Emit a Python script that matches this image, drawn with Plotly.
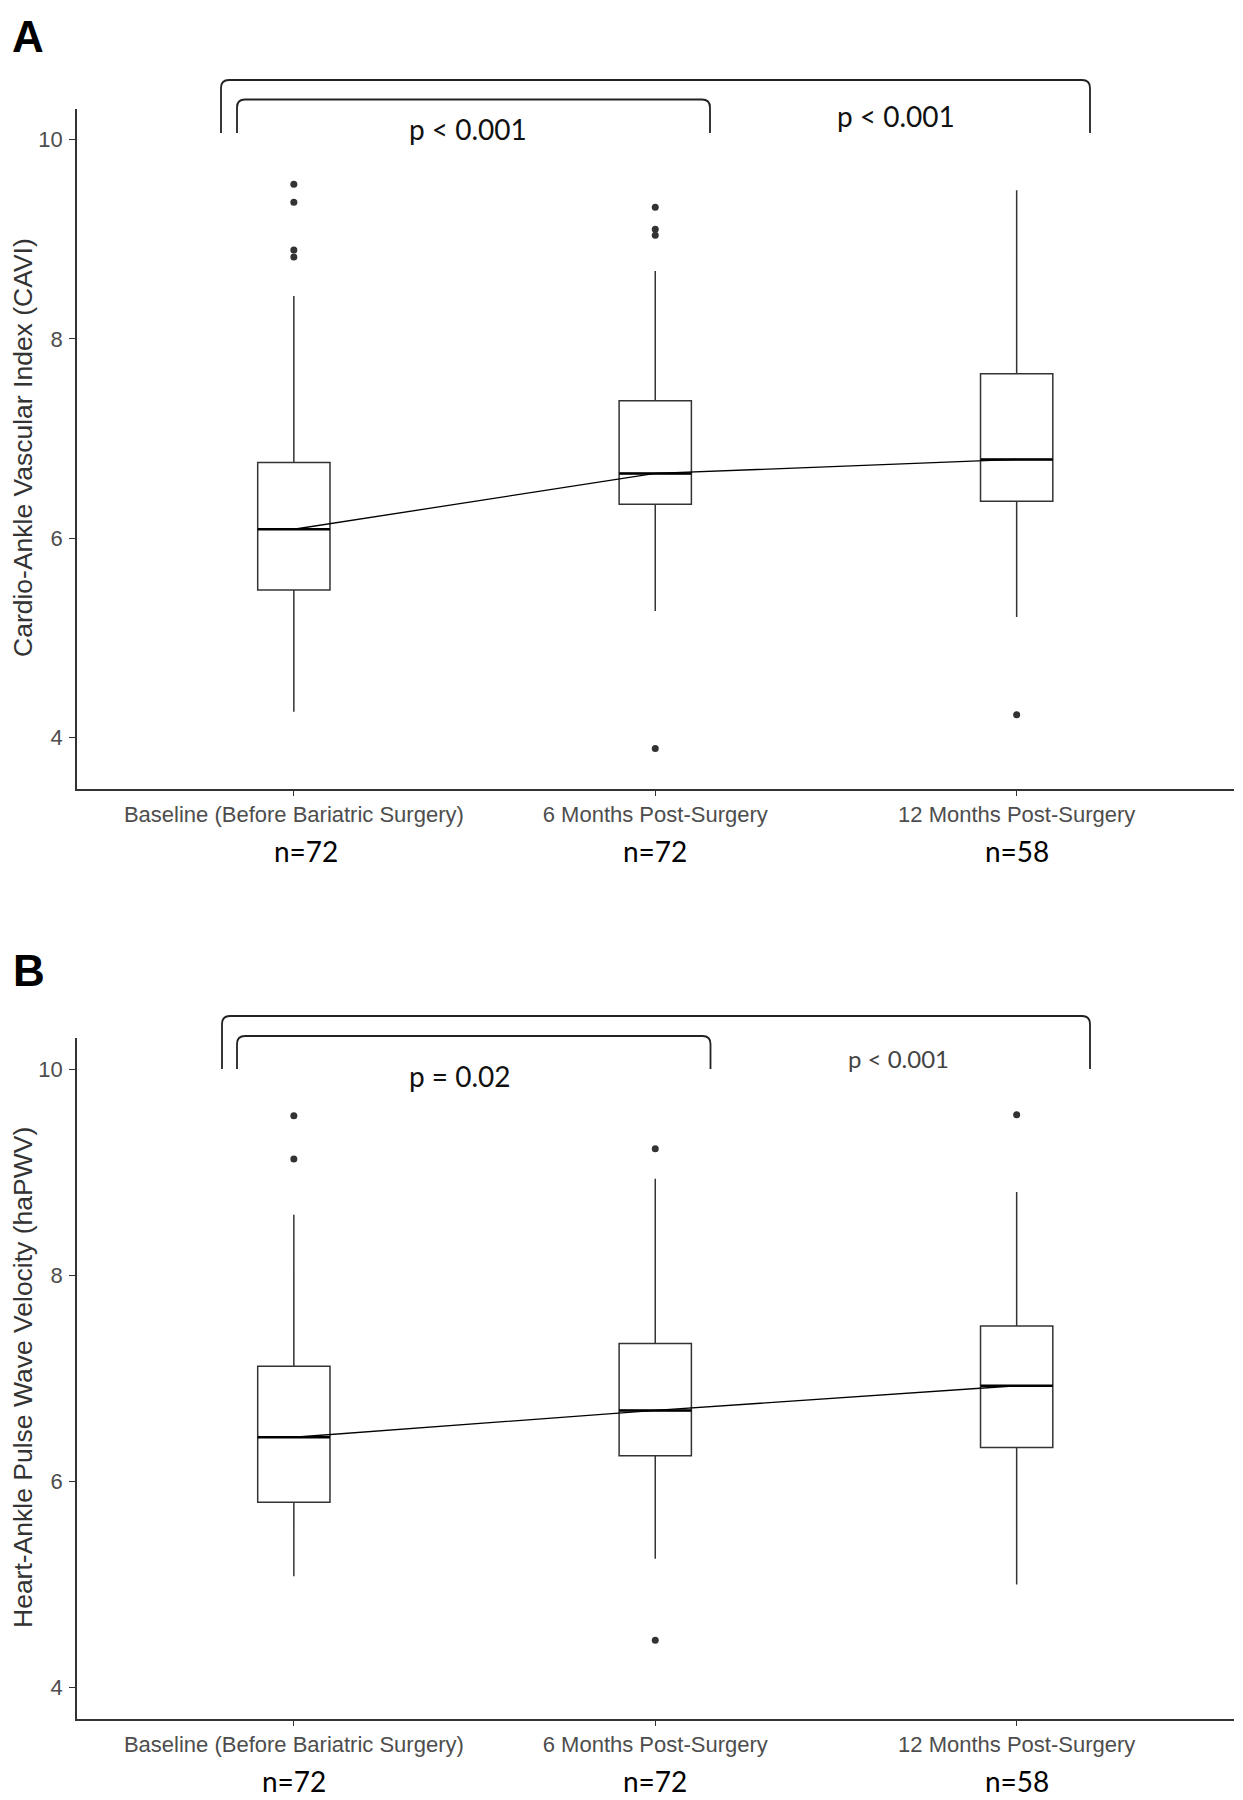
import plotly.graph_objects as go

# ---------------- data ----------------
categories = ["Baseline (Before Bariatric Surgery)", "6 Months Post-Surgery", "12 Months Post-Surgery"]
x_pos = [1, 2, 3]
n_labels = ["n=72", "n=72", "n=58"]

cavi_lower = [4.26, 5.27, 5.21]
cavi_q1 = [5.48, 6.34, 6.37]
cavi_median = [6.09, 6.65, 6.79]
cavi_q3 = [6.76, 7.38, 7.65]
cavi_upper = [8.43, 8.68, 9.49]
cavi_outliers = [[9.55, 9.37, 8.89, 8.82], [9.32, 9.10, 9.04, 3.89], [4.23]]

hapwv_lower = [5.08, 5.25, 5.00]
hapwv_q1 = [5.80, 6.25, 6.33]
hapwv_median = [6.43, 6.69, 6.93]
hapwv_q3 = [7.12, 7.34, 7.51]
hapwv_upper = [8.59, 8.94, 8.81]
hapwv_outliers = [[9.55, 9.13], [9.23, 4.46], [9.56]]

y_ticks = [4, 6, 8, 10]
p_texts_a = ["p < 0.001", "p < 0.001"]
p_texts_b = ["p = 0.02", "p < 0.001"]
y_titles = ["Cardio-Ankle Vascular Index (CAVI)", "Heart-Ankle Pulse Wave Velocity (haPWV)"]
panel_tags = ["A", "B"]

# ---------------- geometry helpers ----------------
W, H = 1243, 1800
BOX_W = 0.2
LINE = "#333333"


def px(x):
    return x / W


def py(y):
    return 1 - y / H


def bracket_path(x0, x1, ytop, ybot, r=8):
    return (f"M {px(x0)},{py(ybot)} L {px(x0)},{py(ytop + r)} "
            f"Q {px(x0)},{py(ytop)} {px(x0 + r)},{py(ytop)} "
            f"L {px(x1 - r)},{py(ytop)} Q {px(x1)},{py(ytop)} {px(x1)},{py(ytop + r)} "
            f"L {px(x1)},{py(ybot)}")


fig = go.Figure()

panels = [
    dict(lo=cavi_lower, q1=cavi_q1, med=cavi_median, q3=cavi_q3, up=cavi_upper, out=cavi_outliers,
         xa="x", ya="y"),
    dict(lo=hapwv_lower, q1=hapwv_q1, med=hapwv_median, q3=hapwv_q3, up=hapwv_upper, out=hapwv_outliers,
         xa="x2", ya="y2"),
]

for p in panels:
    fig.add_trace(go.Box(
        x=x_pos, q1=p["q1"], median=p["med"], q3=p["q3"],
        lowerfence=p["lo"], upperfence=p["up"],
        width=BOX_W, whiskerwidth=0, boxpoints=False,
        fillcolor="white", line=dict(color=LINE, width=1.5),
        xaxis=p["xa"], yaxis=p["ya"], showlegend=False, hoverinfo="skip",
    ))
    fig.add_trace(go.Scatter(
        x=x_pos, y=p["med"], mode="lines", line=dict(color="black", width=1.3),
        xaxis=p["xa"], yaxis=p["ya"], showlegend=False, hoverinfo="skip",
    ))
    mx, my = [], []
    for xi, m in zip(x_pos, p["med"]):
        mx += [xi - BOX_W / 2, xi + BOX_W / 2, None]
        my += [m, m, None]
    fig.add_trace(go.Scatter(
        x=mx, y=my, mode="lines", line=dict(color="black", width=2.6),
        xaxis=p["xa"], yaxis=p["ya"], showlegend=False, hoverinfo="skip",
    ))
    ox, oy = [], []
    for xi, vals in zip(x_pos, p["out"]):
        ox += [xi] * len(vals)
        oy += vals
    fig.add_trace(go.Scatter(
        x=ox, y=oy, mode="markers", marker=dict(color="#333333", size=7),
        xaxis=p["xa"], yaxis=p["ya"], showlegend=False, hoverinfo="skip",
    ))

x_dom = [px(77), px(1233.5)]
a_dom = [py(788.5), py(108.5)]
b_dom = [py(1718.5), py(1037.5)]

axis_common = dict(showgrid=False, zeroline=False, showline=True, linecolor=LINE, linewidth=1.5,
                   ticks="outside", ticklen=6, tickwidth=1.3, tickcolor=LINE,
                   tickfont=dict(family="Liberation Sans", size=22, color="#4d4d4d"),
                   automargin=False)

xaxis_cfg = dict(axis_common, domain=x_dom, range=[0.4, 3.6], tickvals=x_pos, ticktext=categories,
                 ticklabelstandoff=-1)

fig.update_layout(
    width=W, height=H,
    margin=dict(l=0, r=0, t=0, b=0),
    paper_bgcolor="white", plot_bgcolor="white",
    showlegend=False,
    xaxis=dict(xaxis_cfg, anchor="y"),
    xaxis2=dict(xaxis_cfg, anchor="y2"),
    yaxis=dict(axis_common, domain=a_dom, range=[3.49, 10.31], tickvals=y_ticks, anchor="x",
               ticklabelstandoff=2),
    yaxis2=dict(axis_common, domain=b_dom, range=[3.70, 10.31], tickvals=y_ticks, anchor="x2",
                ticklabelstandoff=2),
)

# brackets
shapes = []
for (x0, x1, yt, yb) in [(221, 1090, 80, 133), (237, 710, 99.5, 133),
                         (222, 1090, 1016, 1069), (237, 710.5, 1036, 1069)]:
    shapes.append(dict(type="path", path=bracket_path(x0, x1, yt, yb), xref="paper", yref="paper",
                       line=dict(color="#222222", width=1.8)))
fig.update_layout(shapes=shapes)

ann = []
lato = "Lato"
# p-values
ann.append(dict(text=p_texts_a[0], x=px(468.5), y=py(129), font=dict(family=lato, size=28, color="#111")))
ann.append(dict(text=p_texts_a[1], x=px(896), y=py(116), font=dict(family=lato, size=28, color="#111")))
ann.append(dict(text=p_texts_b[0], x=px(459.5), y=py(1076), font=dict(family=lato, size=28, color="#111")))
ann.append(dict(text=p_texts_b[1], x=px(898), y=py(1058), font=dict(family=lato, size=24, color="#444")))
# panel tags
ann.append(dict(text=f"<b>{panel_tags[0]}</b>", x=px(28), y=py(37),
                font=dict(family="Liberation Sans", size=44, color="black")))
ann.append(dict(text=f"<b>{panel_tags[1]}</b>", x=px(29), y=py(970),
                font=dict(family="Liberation Sans", size=44, color="black")))
# y titles
ann.append(dict(text=y_titles[0], x=px(23), y=py(448), textangle=-90,
                font=dict(family="Liberation Sans", size=26.5, color="#333")))
ann.append(dict(text=y_titles[1], x=px(23), y=py(1378), textangle=-90,
                font=dict(family="Liberation Sans", size=26.5, color="#333")))
for a in ann:
    a.update(xref="paper", yref="paper", showarrow=False, xanchor="center", yanchor="middle")

# n labels
for i, (xi, lab) in enumerate(zip(x_pos, n_labels)):
    ann.append(dict(text=lab, x=xi, xref="x", y=py(851), yref="paper", showarrow=False,
                    xshift=12 if i == 0 else 0, xanchor="center", yanchor="middle",
                    font=dict(family=lato, size=28, color="black")))
    ann.append(dict(text=lab, x=xi, xref="x2", y=py(1781), yref="paper", showarrow=False,
                    xanchor="center", yanchor="middle",
                    font=dict(family=lato, size=28, color="black")))

fig.update_layout(annotations=ann)

fig.write_html(
    "out.html",
    config={"displayModeBar": False},
    post_script="document.body.style.margin='0';document.body.style.padding='0';"
                "document.documentElement.style.overflow='hidden';",
)
